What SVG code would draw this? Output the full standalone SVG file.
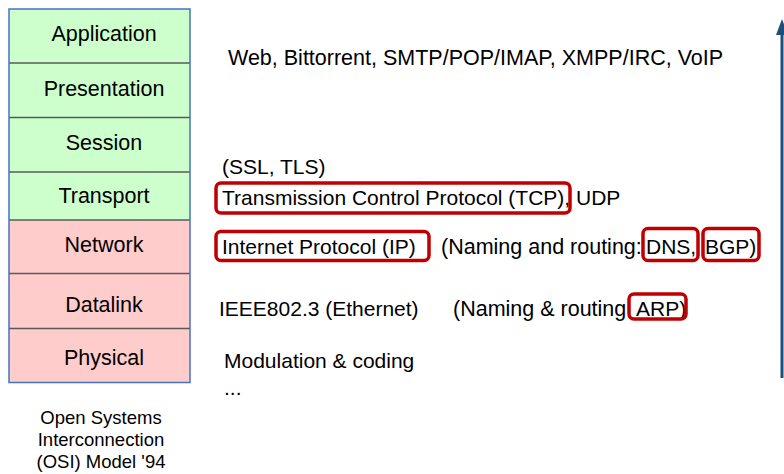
<svg xmlns="http://www.w3.org/2000/svg" width="784" height="474" viewBox="0 0 784 474">
  <style>
    text { font-family: "Liberation Sans", Arial, sans-serif; fill: #000; }
    .layer { font-size: 21.5px; text-anchor: middle; }
    .proto { font-size: 21px; }
    .caption { font-size: 18.5px; text-anchor: middle; }
    .upper { fill: #CCFFCC; }
    .lower { fill: #FFCCCC; }
    .div { stroke: #5a5a5a; stroke-width: 1.5; }
    .hl { fill: none; stroke: #C00000; stroke-width: 3.5; }
  </style>
  <defs>
    <marker id="head" viewBox="0 0 16 12" refX="0" refY="6" markerWidth="16" markerHeight="12" markerUnits="userSpaceOnUse" orient="auto">
      <path d="M0,0 L16,6 L0,12 Z" fill="#1F4E79"/>
    </marker>
  </defs>

  <rect width="784" height="474" fill="#fff"/>

  <!-- OSI layer stack -->
  <g id="stack">
    <rect class="upper" x="9" y="9" width="181" height="211"/>
    <rect class="lower" x="9" y="220" width="181" height="162.5"/>
    <line class="div" x1="9" y1="63" x2="190" y2="63"/>
    <line class="div" x1="9" y1="117.5" x2="190" y2="117.5" stroke="#000"/>
    <line class="div" x1="9" y1="172" x2="190" y2="172"/>
    <line class="div" x1="9" y1="220" x2="190" y2="220" stroke="#4472C4"/>
    <line class="div" x1="9" y1="273.5" x2="190" y2="273.5" stroke="#806464" stroke-width="2"/>
    <line class="div" x1="9" y1="328.5" x2="190" y2="328.5" stroke="#000"/>
    <rect x="9" y="9" width="181" height="373.5" fill="none" stroke="#4472C4" stroke-width="1.5"/>
  </g>
  <g id="application"><text class="layer" x="104" y="41">Application</text></g>
  <g id="presentation"><text class="layer" x="104" y="96">Presentation</text></g>
  <g id="session"><text class="layer" x="104" y="150">Session</text></g>
  <g id="transport"><text class="layer" x="104" y="203">Transport</text></g>
  <g id="network"><text class="layer" x="104" y="252">Network</text></g>
  <g id="datalink"><text class="layer" x="104" y="312">Datalink</text></g>
  <g id="physical"><text class="layer" x="104" y="365">Physical</text></g>

  <g id="caption">
    <text class="caption" x="101" y="424">Open Systems</text>
    <text class="caption" x="101" y="446">Interconnection</text>
    <text class="caption" x="101" y="468">(OSI) Model '94</text>
  </g>

  <!-- protocols per layer -->
  <g id="protocols">
    <text class="proto" x="228" y="65" style="font-size:21.5px">Web, Bittorrent, SMTP/POP/IMAP, XMPP/IRC, VoIP</text>
    <text class="proto" x="222" y="174">(SSL, TLS)</text>
    <text class="proto" x="222" y="205">Transmission Control Protocol (TCP), UDP</text>
    <text class="proto" x="222" y="254">Internet Protocol (IP)</text>
    <text class="proto" x="441" y="254" style="font-size:21.5px">(Naming and routing:</text>
    <text class="proto" x="646" y="254">DNS,</text>
    <text class="proto" x="705" y="254">BGP)</text>
    <text class="proto" x="219" y="316">IEEE802.3 (Ethernet)</text>
    <text class="proto" x="453" y="316" style="font-size:21.5px">(Naming &amp; routing</text>
    <text class="proto" x="636" y="316">ARP)</text>
    <text class="proto" x="224" y="368">Modulation &amp; coding</text>
    <text class="proto" x="224" y="395">...</text>
  </g>

  <!-- highlight boxes -->
  <g id="highlights">
    <rect class="hl" x="216" y="183" width="354" height="30" rx="5"/>
    <rect class="hl" x="216" y="231.5" width="213" height="29" rx="5"/>
    <rect class="hl" x="643" y="228.5" width="55" height="32" rx="5"/>
    <rect class="hl" x="703" y="228.5" width="56" height="32" rx="5"/>
    <rect class="hl" x="629" y="294" width="57" height="25" rx="5"/>
  </g>

  <!-- connectors -->
  <g id="connectors">
    <line x1="782" y1="378" x2="782" y2="35" stroke="#1F4E79" stroke-width="3" marker-end="url(#head)"/>
  </g>
</svg>
